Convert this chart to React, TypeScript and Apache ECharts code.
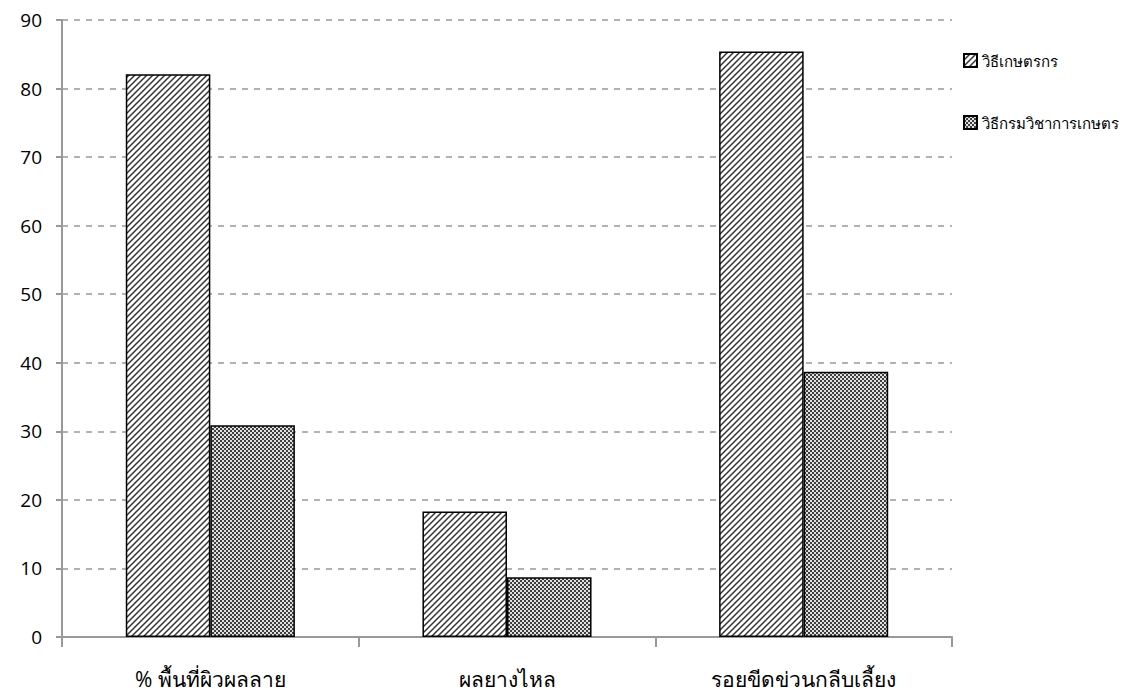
import React, { useEffect, useRef } from "react";
import * as echarts from "echarts";

const categories = ["% พื้นที่ผิวผลลาย", "ผลยางไหล", "รอยขีดข่วนกลีบเลี้ยง"];
const seriesNames = ["วิธีเกษตรกร", "วิธีกรมวิชาการเกษตร"];
const farmerValues = [82.1, 18.3, 85.4];
const doaValues = [30.9, 8.7, 38.7];
const yTicks = { min: 0, max: 90, interval: 10 };

const stripeSvg =
  '<svg xmlns="http://www.w3.org/2000/svg" width="6" height="6">' +
  '<rect width="6" height="6" fill="#ffffff"/>' +
  '<path d="M-1,7 L7,-1 M-1,1 L1,-1 M5,7 L7,5" stroke="#333" stroke-width="1.5"/></svg>';
const checkerSvg =
  '<svg xmlns="http://www.w3.org/2000/svg" width="4" height="4">' +
  '<rect width="4" height="4" fill="#e0e0e0"/>' +
  '<rect x="0" y="0" width="2" height="2" fill="#404040"/>' +
  '<rect x="2" y="2" width="2" height="2" fill="#404040"/></svg>';

const toUrl = (s: string) => "data:image/svg+xml;charset=utf-8," + encodeURIComponent(s);

export default function App() {
  const ref = useRef<HTMLDivElement>(null);
  useEffect(() => {
    if (!ref.current) return;
    const chart = echarts.init(ref.current, null, { renderer: "svg" });
    const font = "'Open Sans', 'Noto Sans', sans-serif";
    const stripe = { image: toUrl(stripeSvg), repeat: "repeat" };
    const checker = { image: toUrl(checkerSvg), repeat: "repeat" };
    chart.setOption({
      animation: false,
      backgroundColor: "#ffffff",
      textStyle: { fontFamily: font, fontWeight: "normal" },
      grid: { left: 62, right: 183, top: 20, bottom: 60, containLabel: false },
      legend: {
        orient: "vertical",
        left: 958,
        top: 48,
        itemGap: 47,
        itemWidth: 13,
        itemHeight: 13,
        icon: "rect",
        textStyle: { fontSize: 15, color: "#000", fontFamily: font, fontWeight: "normal" },
        data: seriesNames,
      },
      xAxis: {
        type: "category",
        data: categories,
        axisLine: { lineStyle: { color: "#999", width: 2 } },
        axisTick: { show: true, length: 10, lineStyle: { color: "#999", width: 2 } },
        axisLabel: { color: "#000", fontSize: 21, margin: 31, fontFamily: font, fontWeight: "normal" },
      },
      yAxis: {
        type: "value",
        min: yTicks.min,
        max: yTicks.max,
        interval: yTicks.interval,
        axisLine: { show: true, lineStyle: { color: "#999", width: 2 } },
        axisTick: { show: true, length: 6, lineStyle: { color: "#999", width: 2 } },
        axisLabel: { color: "#000", fontSize: 19, margin: 20, fontFamily: font, fontWeight: "normal" },
        splitLine: { show: true, lineStyle: { color: "#999", type: [6, 6], width: 1.5 } },
      },
      series: [
        {
          name: seriesNames[0],
          type: "bar",
          data: farmerValues,
          barGap: "0%",
          barCategoryGap: "43%",
          itemStyle: { color: stripe, borderColor: "#000", borderWidth: 1.5 },
        },
        {
          name: seriesNames[1],
          type: "bar",
          data: doaValues,
          barGap: "0%",
          barCategoryGap: "43%",
          itemStyle: { color: checker, borderColor: "#000", borderWidth: 1.5 },
        },
      ],
    });
    return () => chart.dispose();
  }, []);
  return <div ref={ref} style={{ width: 1135, height: 697, margin: -8 }} />;
}
